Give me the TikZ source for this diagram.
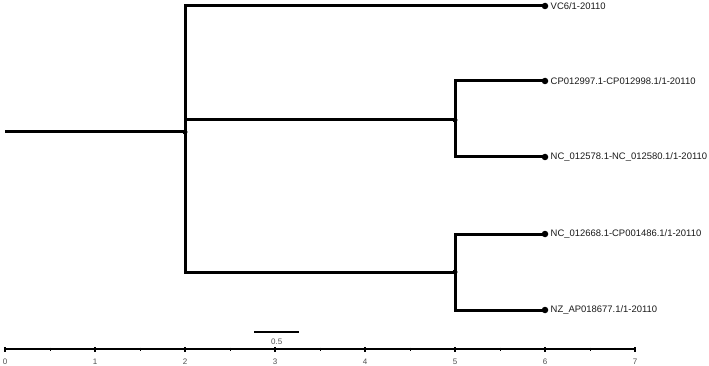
\documentclass[tikz,border=0pt]{standalone}
\usepackage{fontspec}
\setmainfont{Liberation Sans}
\usetikzlibrary{positioning}
\definecolor{ticktext}{HTML}{505050}
\definecolor{leaftext}{HTML}{1A1A1A}
\tikzset{
  branch/.style={line width=3pt, line join=miter},
  tipdot/.style={circle, fill, inner sep=0pt, minimum size=6.5pt},
  innerdot/.style={circle, fill, inner sep=0pt, minimum size=5pt},
  leaflabel/.style={anchor=west, inner sep=1pt, text=leaftext, font=\fontsize{9.45}{11}\selectfont},
  ticklabel/.style={inner sep=0pt, text=ticktext, font=\fontsize{8}{9}\selectfont},
  axisline/.style={line width=1.8pt},
}
\begin{document}
\begin{tikzpicture}[x=90pt, y=-1pt, xshift=5pt]
  \useasboundingbox (-5pt,0pt) rectangle (704pt,-366pt);

  % root and inner nodes
  \coordinate (r0) at (0,132);
  \coordinate (n1) at (2,132);
  \coordinate (n2) at (5,120);
  \coordinate (n3) at (5,272);

  % leaves
  \coordinate (t1) at (6,6);
  \coordinate (t2) at (6,81);
  \coordinate (t3) at (6,157);
  \coordinate (t4) at (6,234);
  \coordinate (t5) at (6,310);

  % branches
  \draw[branch] (r0) -- (n1);
  \draw[branch] (t1) -| (n1) |- (n3);
  \draw[branch] (n1 |- n2) -- (n2);
  \draw[branch] (t2) -| (n2) |- (t3);
  \draw[branch] (t4) -| (n3) |- (t5);

  % node dots
  \node[innerdot] (d1) at (n1) {};
  \node[innerdot] (d2) at (n2) {};
  \node[innerdot] (d3) at (n3) {};
  \foreach \t in {1,...,5}
    \node[tipdot] (dt\t) at (t\t) {};

  % leaf names
  \node[leaflabel, right=4.5pt of t1] (l1) {VC6/1-20110};
  \node[leaflabel, right=4.5pt of t2] (l2) {CP012997.1-CP012998.1/1-20110};
  \node[leaflabel, right=4.5pt of t3] (l3) {NC\_012578.1-NC\_012580.1/1-20110};
  \node[leaflabel, right=4.5pt of t4] (l4) {NC\_012668.1-CP001486.1/1-20110};
  \node[leaflabel, right=4.5pt of t5] (l5) {NZ\_AP018677.1/1-20110};

  % scale bar
  \coordinate (sb0) at (2.77,332);
  \coordinate (sb1) at (3.27,332);
  \draw[line width=2pt] (sb0) -- (sb1);
  \node[ticklabel] (sbl) at (3.02,342) {0.5};

  % axis
  \coordinate (ax0) at (0,349);
  \coordinate (ax7) at (7,349);
  \draw[axisline] (ax0) -- (ax7);
  \foreach \i in {0,...,7} {
    \draw[line width=1.3pt] (\i,347) -- (\i,352);
    \node[ticklabel] (tk\i) at (\i,362) {\i};
  }
  \foreach \i in {0.5,1.5,...,6.5}
    \draw[line width=0.9pt] (\i,347.5) -- (\i,350.5);
\end{tikzpicture}
\end{document}
